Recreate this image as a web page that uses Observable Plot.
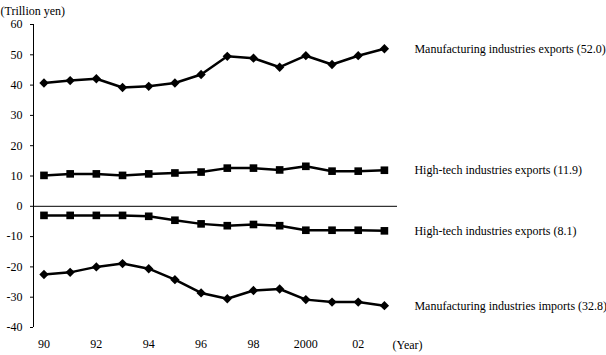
<!DOCTYPE html>
<html>
<head>
<meta charset="utf-8">
<script src="https://cdn.jsdelivr.net/npm/d3@7"></script>
<script src="https://cdn.jsdelivr.net/npm/@observablehq/plot@0.6"></script>
<style>
  html, body { margin: 0; padding: 0; background: #fff; }
</style>
</head>
<body>
<div id="chart"></div>
<script>
const years = [1990, 1991, 1992, 1993, 1994, 1995, 1996, 1997, 1998, 1999, 2000, 2001, 2002, 2003];
const mfgExports = [40.7, 41.5, 42.1, 39.2, 39.6, 40.7, 43.5, 49.5, 48.9, 45.9, 49.7, 46.8, 49.7, 52.0];
const hiExports = [10.2, 10.7, 10.7, 10.2, 10.7, 11.0, 11.3, 12.6, 12.6, 12.0, 13.2, 11.6, 11.6, 11.9];
const hiImports = [-3.0, -3.0, -3.0, -3.0, -3.3, -4.6, -5.8, -6.4, -6.0, -6.4, -7.9, -7.9, -7.9, -8.1];
const mfgImports = [-22.5, -21.8, -20.0, -18.9, -20.6, -24.2, -28.6, -30.5, -27.8, -27.3, -30.8, -31.6, -31.6, -32.8];

const seriesNames = [
  "Manufacturing industries exports (52.0)",
  "High-tech industries exports (11.9)",
  "High-tech industries exports (8.1)",
  "Manufacturing industries imports (32.8)"
];
const seriesValues = [mfgExports, hiExports, hiImports, mfgImports];
const seriesSymbols = ["diamond2", "square", "square", "diamond2"];

const xTickValues = [1990, 1992, 1994, 1996, 1998, 2000, 2002];
const xTickLabels = ["90", "92", "94", "96", "98", "2000", "02"];
const yTickValues = [-40, -30, -20, -10, 0, 10, 20, 30, 40, 50, 60];

const unitLabel = "(Trillion yen)";
const yearLabel = "(Year)";

const xDomain = [1989.6, 2003.5];
const yDomain = [-40, 60];

const rows = [];
seriesNames.forEach((name, i) => {
  seriesValues[i].forEach((v, j) => rows.push({series: name, symbol: seriesSymbols[i], year: years[j], value: v}));
});
const lastRows = seriesNames.map((name, i) => ({series: name, year: years[years.length - 1], value: seriesValues[i][years.length - 1]}));

const marks = [
  Plot.ruleY([0], {stroke: "#000", strokeWidth: 1}),
  Plot.ruleX([xDomain[0]], {stroke: "#000", strokeWidth: 1}),
  Plot.axisY({ticks: yTickValues, tickFormat: d => String(d), tickSize: 3, tickPadding: 8, label: null}),
  Plot.axisX({ticks: xTickValues, tickFormat: (d) => xTickLabels[xTickValues.indexOf(d)], tickSize: 0, tickPadding: 12, label: null}),
  Plot.line(rows, {x: "year", y: "value", z: "series", stroke: "#000", strokeWidth: 2.5}),
  Plot.dot(rows.filter(d => d.symbol === "diamond2"), {x: "year", y: "value", symbol: "diamond2", r: 4.2, fill: "#000", stroke: "none"}),
  Plot.dot(rows.filter(d => d.symbol === "square"), {x: "year", y: "value", symbol: "square", r: 4.3, fill: "#000", stroke: "none"}),
  Plot.text(lastRows, {x: "year", y: "value", text: "series", textAnchor: "start", dx: 30, fill: "#000"}),
  Plot.text([unitLabel], {frameAnchor: "top-left", text: d => d, textAnchor: "start", dx: -33, dy: -18, fill: "#000"}),
  Plot.text([yearLabel], {frameAnchor: "bottom-right", text: d => d, textAnchor: "start", dx: -5, dy: 21, fill: "#000"})
];

const chart = Plot.plot({
  width: 606,
  height: 355,
  marginLeft: 33,
  marginRight: 209,
  marginTop: 24,
  marginBottom: 28,
  style: {fontFamily: "'Liberation Serif', 'Times New Roman', serif", fontSize: "12px", color: "#000", background: "#fff", overflow: "visible"},
  x: {domain: xDomain, axis: null},
  y: {domain: yDomain, axis: null},
  marks
});
document.getElementById("chart").appendChild(chart);
</script>
</body>
</html>
